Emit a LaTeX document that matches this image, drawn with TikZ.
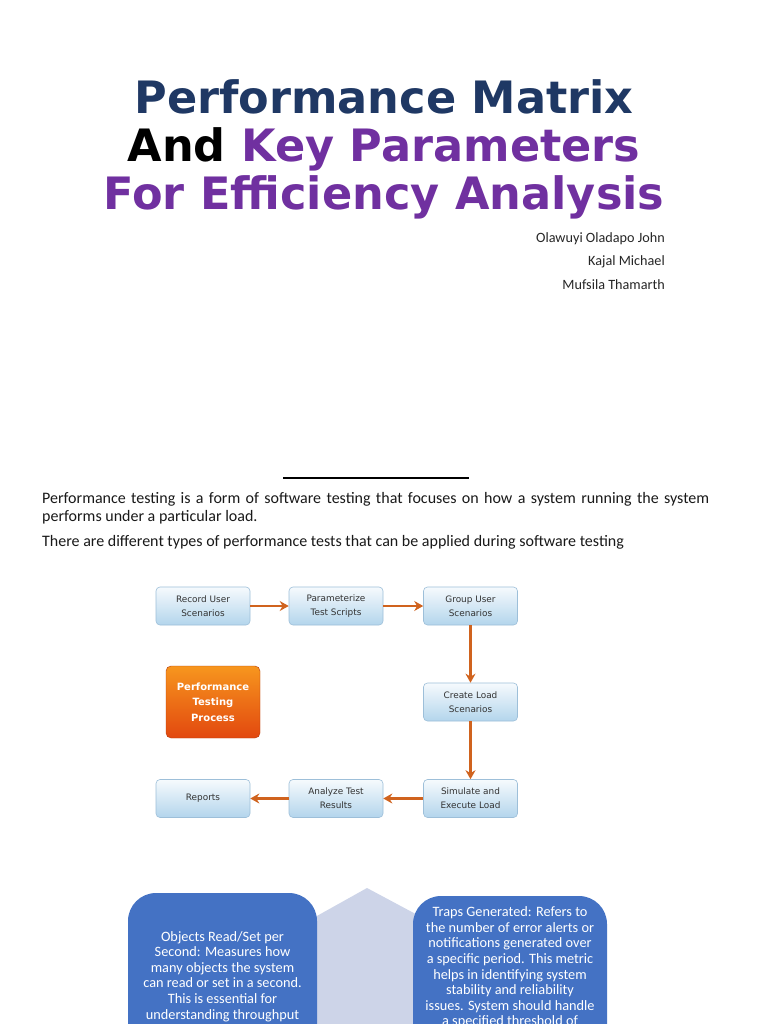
\documentclass[tikz,border=0pt]{standalone}
\usepackage{fontspec}
\setmainfont{Carlito}
\newfontfamily\titlefont{DejaVu Sans}
\newfontfamily\flowfont{DejaVu Sans}
\usetikzlibrary{arrows.meta}
\definecolor{navy}{HTML}{1F3864}
\definecolor{purp}{HTML}{7030A0}
\definecolor{flowline}{HTML}{9DBFD9}
\definecolor{flowtop}{HTML}{F6FAFD}
\definecolor{flowbot}{HTML}{B3D5EC}
\definecolor{arrowc}{HTML}{D0631E}
\definecolor{orgtop}{HTML}{F7961E}
\definecolor{orgbot}{HTML}{E2480F}
\definecolor{bluebox}{HTML}{4472C4}
\definecolor{chev}{HTML}{CDD4E8}
\definecolor{flowtext}{HTML}{333333}
\tikzset{
  titletext/.style={anchor=base, inner sep=0pt, font=\titlefont\bfseries\fontsize{44.6}{48}\selectfont},
  author/.style={anchor=base east, inner sep=0pt, font=\fontsize{14.2}{16}\selectfont, text=black!85},
  bodytext/.style={anchor=base west, inner sep=0pt, font=\fontsize{16}{18}\selectfont, text=black!90},
  flowbox/.style={rounded corners=4pt, draw=flowline, line width=0.6pt, top color=flowtop, bottom color=flowbot,
    minimum width=94pt, minimum height=38pt, inner sep=0pt, align=center, text=flowtext,
    font=\flowfont\fontsize{8.9}{14}\selectfont},
  orangebox/.style={rounded corners=5pt, top color=orgtop, bottom color=orgbot, draw=orgbot!80!black, line width=0.4pt,
    minimum width=94pt, minimum height=72pt, inner sep=0pt, align=center, text=white,
    font=\flowfont\bfseries\fontsize{10}{15.5}\selectfont},
  flowarr/.style={draw=arrowc, line width=2.2pt, -{Stealth[length=9pt,width=10pt]}},
  bluecard/.style={fill=bluebox, rounded corners=28pt},
  cardtext/.style={anchor=north, inner sep=0pt, align=center, text=white, font=\fontsize{14.3}{15.6}\selectfont}
}
\begin{document}
\begin{tikzpicture}[x=1pt,y=-1pt]
\useasboundingbox (0,0) rectangle (768,1024);
\clip (0,0) rectangle (768,1024);
\fill[white] (0,0) rectangle (768,1024);
% title
\node[titletext, text=navy] (t1) at (384,114) {Performance Matrix};
\node[titletext] (t2) at (384,162) {\textcolor{black}{And} \textcolor{purp}{Key Parameters}};
\node[titletext, text=purp] (t3) at (384,210) {For Efficiency Analysis};
% authors
\node[author] (a1) at (665,242) {Olawuyi Oladapo John};
\node[author] (a2) at (665,265) {Kajal Michael};
\node[author] (a3) at (665,289) {Mufsila Thamarth};
% rule
\coordinate (r1) at (283,478);
\coordinate (r2) at (469,478);
\draw[line width=1.8pt] (r1) -- (r2);
% body text
\node[bodytext] (p1) at (42,503) {\makebox[667pt][s]{Performance testing is a form of software testing that focuses on how a system running the system}};
\node[bodytext] (p2) at (42,521) {performs under a particular load.};
\node[bodytext] (p3) at (42,546) {There are different types of performance tests that can be applied during software testing};
% flowchart
\node[flowbox] (rec) at (203,606) {Record User\\Scenarios};
\node[flowbox] (par) at (336,606) {Parameterize\\Test Scripts};
\node[flowbox] (grp) at (470.5,606) {Group User\\Scenarios};
\node[flowbox] (cre) at (470.5,702) {Create Load\\Scenarios};
\node[flowbox] (sim) at (470.5,798.5) {Simulate and\\Execute Load};
\node[flowbox] (ana) at (336,798.5) {Analyze Test\\Results};
\node[flowbox] (rep) at (203,798.5) {Reports};
\node[orangebox] (ptp) at (213,702) {Performance\\Testing\\Process};
\draw[flowarr] (rec) -- (par);
\draw[flowarr] (par) -- (grp);
\draw[flowarr] (grp) -- (cre);
\draw[flowarr] (cre) -- (sim);
\draw[flowarr] (sim) -- (ana);
\draw[flowarr] (ana) -- (rep);
% bottom cards
\fill[chev] (290,931) -- (367,888) -- (440,927) -- (440,1040) -- (290,1040) -- cycle;
\fill[bluecard] (128,893) rectangle (317,1080);
\fill[bluecard] (413,896) rectangle (607,1080);
\node[cardtext] (c1) at (222.5,931) {Objects Read/Set per\\Second: Measures how\\many objects the system\\can read or set in a second.\\This is essential for\\understanding throughput\\and scalability.};
\node[cardtext] (c2) at (510,906.5) {Traps Generated: Refers to\\the number of error alerts or\\notifications generated over\\a specific period. This metric\\helps in identifying system\\stability and reliability\\issues. System should handle\\a specified threshold of};
\end{tikzpicture}
\end{document}
